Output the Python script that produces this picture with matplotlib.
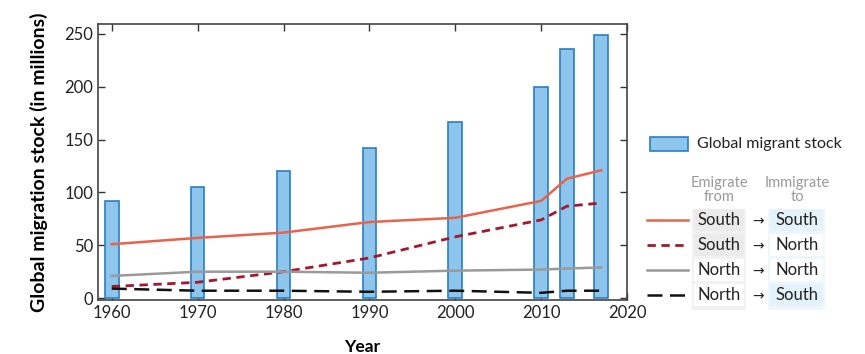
import matplotlib
matplotlib.use("Agg")
import matplotlib.pyplot as plt
from matplotlib.patches import Rectangle
from matplotlib.lines import Line2D

plt.rcParams['font.family'] = ['Lato', 'DejaVu Sans']

years = [1960, 1970, 1980, 1990, 2000, 2010, 2013, 2017]
stock = [92, 105, 120, 142, 167, 200, 236, 249]
south_south = [51, 57, 62, 72, 76, 92, 113, 121]
south_north = [11, 15, 25, 38, 58, 74, 87, 90]
north_north = [21, 25, 25, 24, 26, 27, 28, 29]
north_south = [9, 7, 7, 6, 7, 5, 7, 7]

flows = [("South", "South"), ("South", "North"), ("North", "North"), ("North", "South")]
styles = [
    dict(color="#e8634a", ls="-", lw=1.8),
    dict(color="#a3182c", ls=(0, (3, 2)), lw=2.0),
    dict(color="#9a9a9a", ls="-", lw=1.8),
    dict(color="#111111", ls=(0, (6, 3)), lw=1.8),
]

fig = plt.figure(figsize=(8.65, 3.54), dpi=100)
ax = fig.add_axes([0.1133, 0.1525, 0.6116, 0.7785])

ax.bar(years, stock, width=1.6, color="#8ec5ec", edgecolor="#2b7fc1", linewidth=1.2, zorder=2)
for vals, st in zip([south_south, south_north, north_north, north_south], styles):
    ax.plot(years, vals, zorder=3, **st)

ax.set_xlim(1958.4, 2020)
ax.set_ylim(-1.8, 259)
ax.set_xticks([1960, 1970, 1980, 1990, 2000, 2010, 2020])
ax.set_yticks([0, 50, 100, 150, 200, 250])
ax.tick_params(direction="in", top=True, right=True, length=5, width=1, colors="#333333",
               labelsize=12, labelcolor="#222222")
for s in ax.spines.values():
    s.set_color("#444444")
    s.set_linewidth(1.2)
ax.set_ylabel("Global migration stock (in millions)", fontsize=14, fontweight="bold", labelpad=12)
ax.set_xlabel("Year", fontsize=12.5, fontweight="bold", labelpad=13)

# legend drawn by hand on the right
W, H = 865.0, 354.0
def fx(px):
    return px / W
def fy(py):
    return 1 - py / H

fig.patches.append(Rectangle((fx(650), fy(151)), fx(38), 14 / H, transform=fig.transFigure,
                             facecolor="#8ec5ec", edgecolor="#2b7fc1", lw=1.2))
fig.text(fx(697), fy(144), "Global migrant stock", fontsize=11.5, va="center", color="#222222")

fig.text(fx(719), fy(190), "Emigrate\nfrom", fontsize=10.5, ha="center", va="center",
         color="#999999", linespacing=1.0)
fig.text(fx(797), fy(190), "Immigrate\nto", fontsize=10.5, ha="center", va="center",
         color="#999999", linespacing=1.0)

row_y = [220, 245, 270, 295]
from_bg = ["#ebebeb", "#ebebeb", "#ffffff", "#ffffff"]
to_bg = ["#e4f2fb", "#ffffff", "#ffffff", "#e4f2fb"]
fig.patches.append(Rectangle((fx(692), fy(310)), fx(54), 101 / H, transform=fig.transFigure,
                             facecolor="#f2f2f2", edgecolor="none"))
fig.patches.append(Rectangle((fx(768), fy(310)), fx(57), 101 / H, transform=fig.transFigure,
                             facecolor="#eef7fc", edgecolor="none"))
for (src, dst), st, y, fb, tb in zip(flows, styles, row_y, from_bg, to_bg):
    fig.patches.append(Rectangle((fx(694), fy(y + 11)), fx(50), 22 / H, transform=fig.transFigure,
                                 facecolor=fb, edgecolor="none"))
    fig.patches.append(Rectangle((fx(770), fy(y + 11)), fx(53), 22 / H, transform=fig.transFigure,
                                 facecolor=tb, edgecolor="none"))
    fig.lines.append(Line2D([fx(647), fx(688)], [fy(y), fy(y)], transform=fig.transFigure, **st))
    fig.text(fx(719), fy(y), src, fontsize=12, ha="center", va="center", color="#222222")
    fig.text(fx(758), fy(y + 1), "\u2192", fontsize=10, ha="center", va="center", color="#222222",
             family=["DejaVu Sans"])
    fig.text(fx(797), fy(y), dst, fontsize=12, ha="center", va="center", color="#222222")

fig.savefig("out.png", dpi=100)
